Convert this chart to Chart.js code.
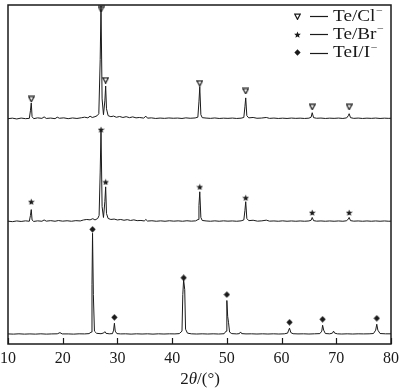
<!DOCTYPE html>
<html>
<head>
<meta charset="utf-8">
<script src="https://cdn.jsdelivr.net/npm/chart.js@4.4.1/dist/chart.umd.min.js"></script>
<style>
html, body { margin: 0; padding: 0; background: #fff; }
#wrap { width: 400px; height: 390px; }
</style>
</head>
<body>
<div id="wrap"><canvas id="xrdChart"></canvas></div>
<script>
// XRD patterns, 2theta (deg) and intensity above each trace's baseline (arb. units)
const clTheta = [10.0,10.8,11.6,12.4,13.2,13.9,14.1,14.25,14.4,14.7,15.4,16.2,16.6,17.0,17.8,18.6,19.0,19.4,20.2,21.0,21.8,22.6,23.4,24.0,24.6,25.0,25.4,25.9,26.3,26.6,26.85,27.0,27.2,27.45,27.7,27.85,28.0,28.3,28.8,29.3,29.8,30.4,31.0,31.6,32.2,32.8,33.4,34.0,34.8,35.2,35.5,36.2,37.0,37.8,38.6,39.4,40.2,41.0,41.8,42.5,43.3,44.2,44.7,44.9,45.05,45.25,45.5,46.2,47.0,47.8,48.6,49.4,50.2,51.0,51.8,52.6,53.1,53.3,53.45,53.65,54.0,54.8,55.5,56.3,57.2,57.8,58.6,59.4,60.2,61.0,61.8,62.6,63.4,64.2,65.0,65.4,65.6,65.85,66.4,67.2,68.0,68.8,69.6,70.4,71.2,71.9,72.2,72.35,72.6,73.2,74.0,74.8,75.6,76.4,77.2,78.0,78.8,79.6,80.0];
const clCounts = [0,0.5,-0.3,0.6,0,0.3,8,16,2,0,0.8,0.3,1.8,0.2,0.6,0,1.5,0.4,0.8,0,0.7,0.2,0.9,1.5,0.8,2.5,1.2,2,3,5,60,114,20,4,18,33,10,3,2,2.6,1.4,2.2,1.2,2,1,1.8,0.8,1.2,0.6,2.5,0.5,0.8,0.2,0.6,0.3,0.7,0.4,0.6,0.2,0.8,0.4,0.7,1.5,17,32,4,1,0.6,0.3,0.7,0.2,0.5,0.3,0.6,0.2,0.5,1.2,12,21,3,0.8,1.2,0.4,0.6,1.2,0.3,0.6,0.2,0.5,0.2,0.6,0.3,0.5,0.2,0.5,1.5,6,1,0.4,0.6,0.2,0.5,0.3,0.6,0.2,0.8,3,5,1,0.3,0.6,0.2,0.5,0.3,0.6,0.2,0.5,0.3,0.4];

const brTheta = [10.0,10.8,11.6,12.4,13.2,13.9,14.1,14.25,14.4,14.7,15.4,16.2,16.6,17.0,17.8,18.6,19.2,20.0,20.8,21.6,22.4,23.2,23.8,24.4,25.0,25.5,25.9,26.4,26.65,26.85,27.0,27.2,27.45,27.7,27.85,28.0,28.3,28.8,29.4,30.0,30.6,31.2,31.8,32.4,33.0,33.6,34.3,34.9,35.2,35.5,36.3,37.1,37.9,38.7,39.5,40.3,41.1,41.9,42.7,43.5,44.3,44.75,44.9,45.05,45.25,45.5,46.2,47.0,47.8,48.6,49.4,50.2,51.0,51.8,52.6,53.1,53.3,53.45,53.65,54.0,54.8,55.6,56.4,57.2,57.8,58.6,59.4,60.2,61.0,61.8,62.6,63.4,64.2,65.0,65.4,65.6,65.85,66.4,67.2,68.0,68.8,69.6,70.4,71.2,71.9,72.2,72.35,72.6,73.2,74.0,74.8,75.6,76.4,77.2,78.0,78.8,79.6,80.0];
const brCounts = [0.3,-0.2,0.5,0,0.6,0.2,6,12,1.5,0,0.6,0.2,1.5,0.3,0.8,0.2,0.9,0.3,0.7,0.2,0.8,0.5,1.5,2,1.6,2.8,1.5,3,6,50,92,15,4,20,35,8,3,2,2.4,1.5,2,1.2,1.8,1,1.6,0.8,1,0.5,2,0.4,0.7,0.2,0.6,0.2,0.7,0.3,0.6,0.2,0.7,0.3,0.6,2,16,30,4,1,0.5,0.2,0.6,0.2,0.6,0.3,0.5,0.2,0.6,1.5,11,20,3,0.8,1.2,0.3,0.6,1.3,0.3,0.5,0.2,0.6,0.2,0.5,0.2,0.5,0.2,0.5,1.2,4,0.8,0.3,0.5,0.2,0.5,0.2,0.5,0.2,0.7,2.5,4,0.8,0.3,0.5,0.2,0.5,0.2,0.5,0.2,0.5,0.2,0.3];

const iTheta = [10.0,11.0,12.0,13.0,14.0,15.0,16.0,17.0,18.0,19.0,19.5,19.9,21.0,22.0,23.0,24.0,24.8,25.2,25.35,25.45,25.6,25.8,26.2,27.0,27.5,27.7,27.9,28.5,29.1,29.3,29.45,29.6,29.9,30.6,31.5,32.5,33.5,34.5,35.5,36.5,37.5,38.5,39.5,40.5,41.3,41.8,41.95,42.1,42.3,42.45,42.8,43.5,44.5,45.5,46.5,47.5,48.5,49.5,49.85,50.0,50.15,50.3,50.5,50.9,51.8,52.3,52.5,52.7,53.5,54.5,55.5,56.5,57.5,58.5,59.5,60.5,61.1,61.3,61.45,61.7,62.1,63.0,64.0,65.0,66.0,67.0,67.35,67.5,67.7,68.0,68.8,69.3,69.5,69.7,70.2,71.0,72.0,73.0,74.0,75.0,76.0,76.8,77.2,77.4,77.6,78.0,79.0,80.0];
const iCounts = [0.2,0,0.3,0,0.2,0,0.3,0,0.2,0.3,1.5,0.2,0.2,0,0.3,0.2,0.5,2,50,102,40,3,0.8,0.4,1.2,2.5,0.8,0.3,0.5,4,11,3,0.5,0.2,0.3,0,0.3,0.1,0.3,0,0.3,0.1,0.3,0.2,0.5,3,40,55,45,5,1,0.3,0.1,0.3,0.1,0.3,0.1,0.4,3,34,18,12,2,0.5,0.2,0.5,2.2,0.5,0.2,0.3,0.1,0.3,0.1,0.3,0.1,0.3,1,4,6,1.5,0.4,0.2,0.3,0.1,0.3,0.5,3,9,4,0.6,0.3,1,3,1,0.3,0.1,0.3,0.1,0.3,0.2,0.3,0.6,4,10,4,0.6,0.3,0.3];

// vertical offset of each trace
const clOffset = 228;
const brOffset = 124;
const iOffset = 10;

// phase markers: 2theta and absolute level
const clMarkTheta = [14.25, 27.0, 27.85, 45.05, 53.45, 65.6, 72.35];
const clMarkLevel = [248, 339, 267, 264, 256, 240, 240];
const brMarkTheta = [14.25, 27.0, 27.85, 45.05, 53.45, 65.6, 72.35];
const brMarkLevel = [144, 217, 164, 159, 148, 133, 133];
const iMarkTheta = [25.45, 29.45, 42.1, 50.0, 61.45, 67.5, 77.4];
const iMarkLevel = [116, 27, 67, 50, 22, 25, 26];

const legendLabels = ['Te/Cl', 'Te/Br', 'TeI/I'];
const xTicks = [10, 20, 30, 40, 50, 60, 70, 80];

const serif = "'Liberation Serif', 'Times New Roman', serif";
const ink = '#1a1a1a';

function makeMarker(kind) {
    const s = 7;
    const c = document.createElement('canvas');
    c.width = s; c.height = s;
    const g = c.getContext('2d');
    g.fillStyle = ink;
    g.strokeStyle = ink;
    g.beginPath();
    if (kind === 'tri') {
        g.moveTo(0.8, 1.2);
        g.lineTo(s - 0.8, 1.2);
        g.lineTo(s / 2, s - 0.6);
        g.closePath();
        g.fillStyle = '#fff';
        g.fill();
        g.lineWidth = 1.2;
        g.stroke();
    } else if (kind === 'star') {
        const r = s / 2, ri = r * 0.45;
        for (let k = 0; k < 10; k++) {
            const rr = k % 2 ? ri : r;
            const a = -Math.PI / 2 + k * Math.PI / 5;
            const px = s / 2 + rr * Math.cos(a), py = s / 2 + 0.4 + rr * Math.sin(a);
            if (k === 0) g.moveTo(px, py); else g.lineTo(px, py);
        }
        g.closePath();
        g.fill();
    } else {
        g.moveTo(s / 2, 0.2);
        g.lineTo(s - 0.4, s / 2);
        g.lineTo(s / 2, s - 0.2);
        g.lineTo(0.4, s / 2);
        g.closePath();
        g.fill();
    }
    return c;
}

const triImg = makeMarker('tri');
const starImg = makeMarker('star');
const diaImg = makeMarker('dia');

function traceData(theta, counts, offset) {
    return theta.map((t, i) => ({ x: t, y: counts[i] + offset }));
}
function markData(theta, level) {
    return theta.map((t, i) => ({ x: t, y: level[i] }));
}

function lineSet(data) {
    return { type: 'line', data, borderColor: ink, borderWidth: 1, pointRadius: 0, tension: 0, fill: false };
}
function markSet(data, img) {
    return { type: 'scatter', data, pointStyle: img, pointRadius: 4, showLine: false };
}

const framePlugin = {
    id: 'frame',
    afterDraw(chart) {
        const ctx = chart.ctx;
        const a = chart.chartArea;
        const xs = chart.scales.x;
        ctx.save();
        ctx.strokeStyle = ink;
        ctx.lineWidth = 1.5;
        ctx.strokeRect(a.left, a.top, a.right - a.left, a.bottom - a.top);
        ctx.lineWidth = 1.2;
        xTicks.forEach(v => {
            const px = Math.round(xs.getPixelForValue(v)) + 0.5;
            ctx.beginPath();
            ctx.moveTo(px, a.bottom);
            ctx.lineTo(px, a.bottom - 6);
            ctx.stroke();
        });

        // legend
        const imgs = [triImg, starImg, diaImg];
        const rowsY = [16, 34.3, 52.5];
        ctx.fillStyle = ink;
        ctx.textBaseline = 'middle';
        legendLabels.forEach((lab, k) => {
            const y = rowsY[k];
            ctx.drawImage(imgs[k], Math.round(297 - imgs[k].width / 2), Math.round(y - imgs[k].height / 2));
            ctx.lineWidth = 1.2;
            ctx.beginPath();
            ctx.moveTo(310, Math.round(y) + 0.5);
            ctx.lineTo(328, Math.round(y) + 0.5);
            ctx.stroke();
            ctx.save();
            ctx.translate(333, y);
            ctx.scale(1.2, 1);
            ctx.font = '16px ' + serif;
            ctx.textAlign = 'left';
            ctx.fillText(lab, 0, 0.5);
            const w = ctx.measureText(lab).width;
            ctx.font = '10px ' + serif;
            ctx.fillText('\u2212', w + 0.5, -4.5);
            ctx.restore();
        });

        // axis title 2θ/(°)
        const parts = [['2', 'normal'], ['\u03b8', 'italic'], ['/(\u00b0)', 'normal']];
        let total = 0;
        parts.forEach(p => { ctx.font = p[1] + ' 17px ' + serif; total += ctx.measureText(p[0]).width; });
        let x = 200 - total / 2;
        ctx.textBaseline = 'alphabetic';
        parts.forEach(p => {
            ctx.font = p[1] + ' 17px ' + serif;
            ctx.fillText(p[0], x, 384);
            x += ctx.measureText(p[0]).width;
        });
        ctx.restore();
    }
};

new Chart(document.getElementById('xrdChart'), {
    data: {
        datasets: [
            lineSet(traceData(clTheta, clCounts, clOffset)),
            lineSet(traceData(brTheta, brCounts, brOffset)),
            lineSet(traceData(iTheta, iCounts, iOffset)),
            markSet(markData(clMarkTheta, clMarkLevel), triImg),
            markSet(markData(brMarkTheta, brMarkLevel), starImg),
            markSet(markData(iMarkTheta, iMarkLevel), diaImg)
        ]
    },
    options: {
        responsive: true,
        maintainAspectRatio: false,
        animation: false,
        events: [],
        layout: { padding: { left: 8, right: 9, top: 1, bottom: 0 } },
        plugins: { legend: { display: false }, tooltip: { enabled: false } },
        scales: {
            x: {
                type: 'linear',
                min: 10,
                max: 80,
                afterFit(scale) {
                    scale.height = 46;
                    scale.paddingLeft = 0;
                    scale.paddingRight = 0;
                },
                afterBuildTicks(scale) { scale.ticks = xTicks.map(v => ({ value: v })); },
                grid: { display: false, drawTicks: false },
                border: { display: false },
                ticks: { color: ink, padding: 5, maxRotation: 0, font: { family: serif, size: 16 } }
            },
            y: {
                display: false,
                min: 0,
                max: 343
            }
        }
    },
    plugins: [framePlugin]
});
</script>
</body>
</html>
